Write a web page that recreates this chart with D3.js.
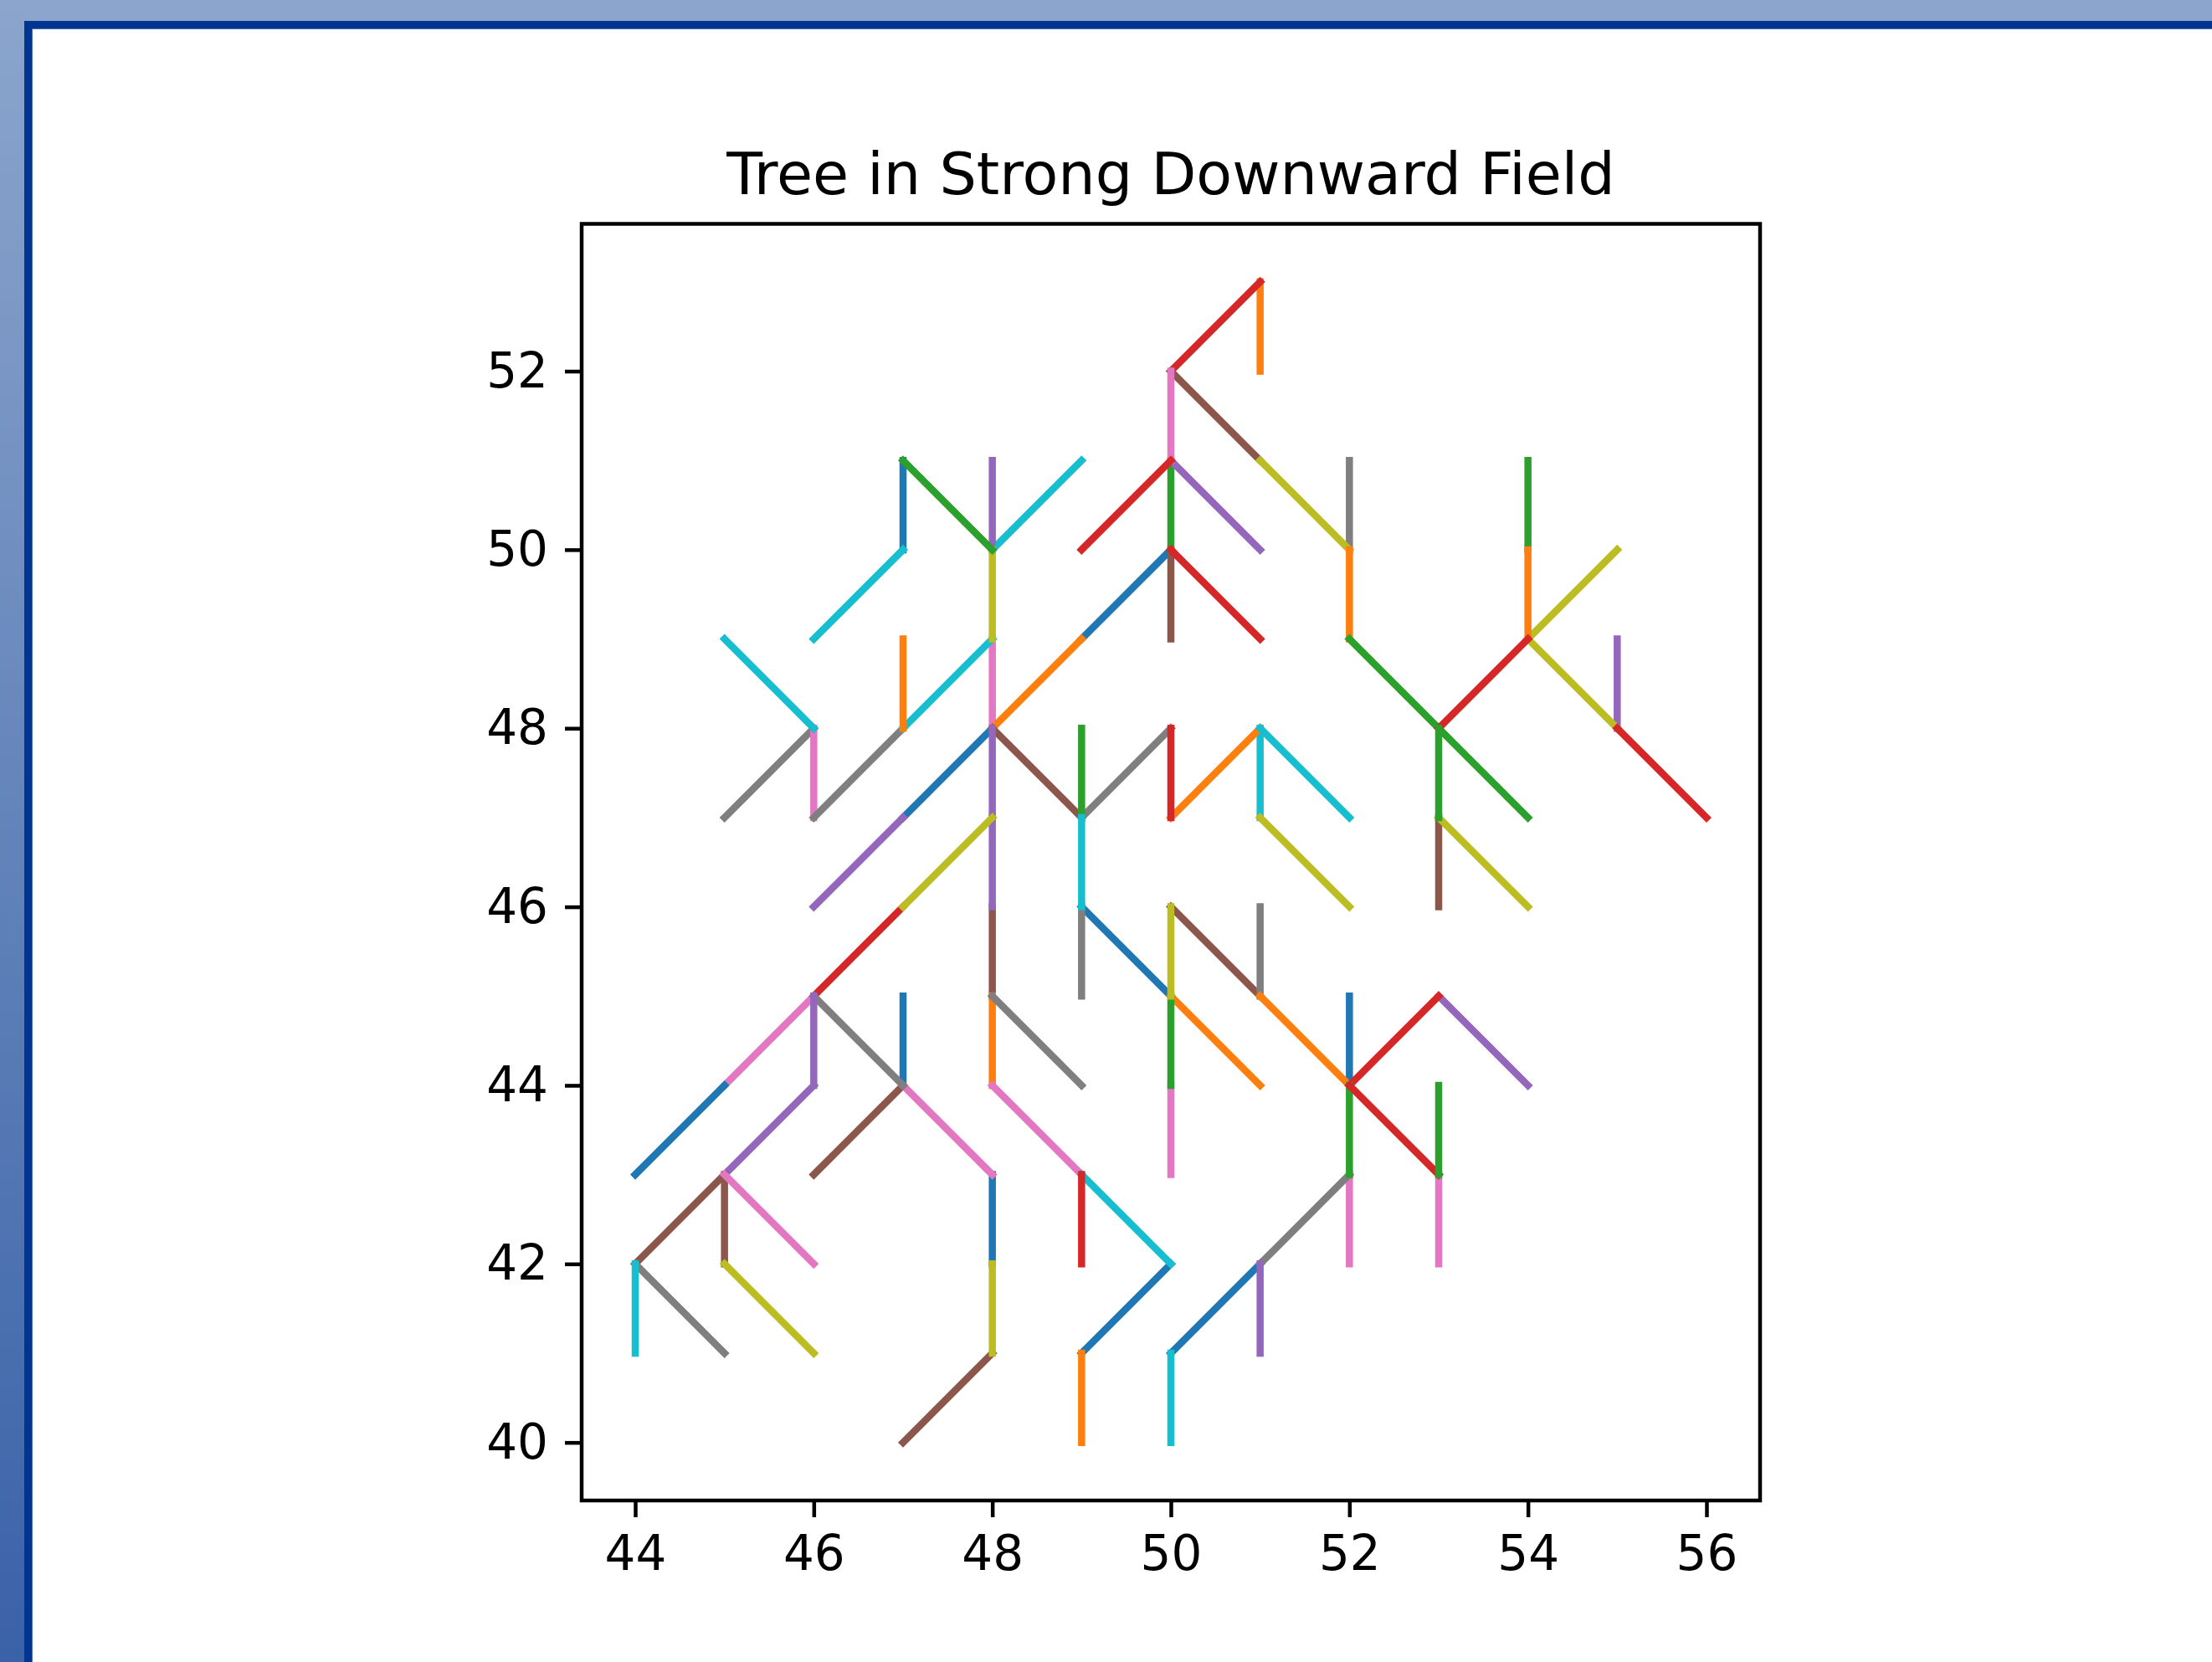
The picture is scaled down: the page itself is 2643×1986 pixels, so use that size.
<!DOCTYPE html>
<html>
<head>
<meta charset="utf-8">
<script src="https://cdn.jsdelivr.net/npm/d3@7"></script>
<style>
  body { margin: 0; background: #fff; }
  svg { display: block; }
</style>
</head>
<body>
<svg id="chart"></svg>
<script>
// segments [x1, y1, x2, y2], one array per colour of the cycle, in draw order
const blueSegs   = [[49,49,50,50],[47,51,47,50],[47,47,48,48],[49,46,50,45],[52,45,52,44],[50,41,51,42],[47,45,47,44],[48,43,48,42],[49,41,50,42],[44,43,45,44]];
const orangeSegs = [[51,53,51,52],[52,50,52,49],[48,48,49,49],[54,49,54,50],[47,49,47,48],[50,47,51,48],[51,45,52,44],[50,45,51,44],[48,45,48,44],[49,41,49,40]];
const greenSegs  = [[50,51,50,50],[52,49,53,48],[54,50,54,51],[53,48,54,47],[53,48,53,47],[47,51,48,50],[49,48,49,47],[50,45,50,44],[52,44,52,43],[53,44,53,43]];
const redSegs    = [[50,52,51,53],[49,50,50,51],[50,50,51,49],[53,48,54,49],[55,48,56,47],[46,45,47,46],[50,48,50,47],[52,44,53,45],[52,44,53,43],[49,43,49,42]];
const purpleSegs = [[50,51,51,50],[55,49,55,48],[48,51,48,50],[46,46,47,47],[48,48,48,47],[48,47,48,46],[53,45,54,44],[51,42,51,41],[46,45,46,44],[45,43,46,44]];
const brownSegs  = [[50,52,51,51],[50,50,50,49],[53,47,53,46],[48,48,49,47],[48,46,48,45],[50,46,51,45],[46,43,47,44],[47,40,48,41],[44,42,45,43],[45,43,45,42]];
const pinkSegs   = [[50,52,50,51],[48,49,48,48],[46,48,46,47],[50,44,50,43],[52,43,52,42],[53,43,53,42],[45,44,46,45],[47,44,48,43],[48,44,49,43],[45,43,46,42]];
const graySegs   = [[52,51,52,50],[45,47,46,48],[46,47,47,48],[49,47,50,48],[49,46,49,45],[51,46,51,45],[51,42,52,43],[46,45,47,44],[48,45,49,44],[44,42,45,41]];
const oliveSegs  = [[51,51,52,50],[54,49,55,50],[54,49,55,48],[53,47,54,46],[48,50,48,49],[47,46,48,47],[51,47,52,46],[50,46,50,45],[48,42,48,41],[45,42,46,41]];
const cyanSegs   = [[48,50,49,51],[46,49,47,50],[47,48,48,49],[45,49,46,48],[51,48,51,47],[51,48,52,47],[49,47,49,46],[50,41,50,40],[49,43,50,42],[44,42,44,41]];

const xTicks = [44, 46, 48, 50, 52, 54, 56];
const yTicks = [40, 42, 44, 46, 48, 50, 52];
const title = "Tree in Strong Downward Field";

const width = 2643, height = 1986;
const series = [blueSegs, orangeSegs, greenSegs, redSegs, purpleSegs,
                brownSegs, pinkSegs, graySegs, oliveSegs, cyanSegs];

// interleave so the drawing order follows the colour cycle
const segs = [];
for (let i = 0; i < 10; i++) {
    series.forEach((s, k) => { if (s[i]) segs.push({ p: s[i], k: k }); });
}

const color = d3.scaleOrdinal().domain(d3.range(10)).range(d3.schemeCategory10);

const svg = d3.select("#chart").attr("width", width).attr("height", height);

// window frame
const defs = svg.append("defs");
const grad = defs.append("linearGradient").attr("id", "leftband")
    .attr("x1", 0).attr("y1", 0).attr("x2", 0).attr("y2", 1);
grad.append("stop").attr("offset", "0%").attr("stop-color", "#8ba5cc");
grad.append("stop").attr("offset", "100%").attr("stop-color", "#3a62a8");

svg.append("rect").attr("x", 0).attr("y", 0).attr("width", width).attr("height", 25).attr("fill", "#8ba5cc");
svg.append("rect").attr("x", 0).attr("y", 0).attr("width", 29).attr("height", height).attr("fill", "url(#leftband)");
svg.append("rect").attr("x", 29).attr("y", 25).attr("width", width - 29).attr("height", 9).attr("fill", "#003592");
svg.append("rect").attr("x", 29).attr("y", 25).attr("width", 9).attr("height", height - 25).attr("fill", "#003592");
svg.append("rect").attr("x", 38).attr("y", 34).attr("width", 1).attr("height", height - 34).attr("fill", "#4a70b2");
svg.append("rect").attr("x", 38).attr("y", 34).attr("width", width - 38).attr("height", 1).attr("fill", "#4a70b2");

// axes box
const axLeft = 695, axRight = 2103, axTop = 267.5, axBottom = 1793;

const x = d3.scaleLinear().domain([43.4, 56.6]).range([axLeft, axRight]);
const y = d3.scaleLinear().domain([39.35, 53.65]).range([axBottom, axTop]);

const g = svg.append("g");

g.selectAll("line.seg")
    .data(segs)
    .join("line")
    .attr("class", "seg")
    .attr("x1", d => x(d.p[0]))
    .attr("y1", d => y(d.p[1]))
    .attr("x2", d => x(d.p[2]))
    .attr("y2", d => y(d.p[3]))
    .attr("stroke", d => color(d.k))
    .attr("stroke-width", 8.5)
    .attr("stroke-linecap", "square");

// spines
svg.append("rect")
    .attr("x", axLeft).attr("y", axTop)
    .attr("width", axRight - axLeft).attr("height", axBottom - axTop)
    .attr("fill", "none").attr("stroke", "#000").attr("stroke-width", 4.5);

const xAxis = svg.append("g")
    .attr("transform", `translate(0,${axBottom})`)
    .call(d3.axisBottom(x).tickValues(xTicks).tickSize(20).tickPadding(22).tickFormat(d3.format("d")));
const yAxis = svg.append("g")
    .attr("transform", `translate(${axLeft},0)`)
    .call(d3.axisLeft(y).tickValues(yTicks).tickSize(20).tickPadding(20).tickFormat(d3.format("d")));

[xAxis, yAxis].forEach(a => {
    a.select(".domain").remove();
    a.selectAll(".tick line").attr("stroke", "#000").attr("stroke-width", 4.5);
    a.selectAll(".tick text")
        .attr("fill", "#000")
        .attr("font-family", "DejaVu Sans")
        .attr("font-size", 58);
});

svg.append("text")
    .attr("x", (axLeft + axRight) / 2)
    .attr("y", 232)
    .attr("text-anchor", "middle")
    .attr("font-family", "DejaVu Sans")
    .attr("font-size", 70)
    .attr("fill", "#000")
    .text(title);
</script>
</body>
</html>
